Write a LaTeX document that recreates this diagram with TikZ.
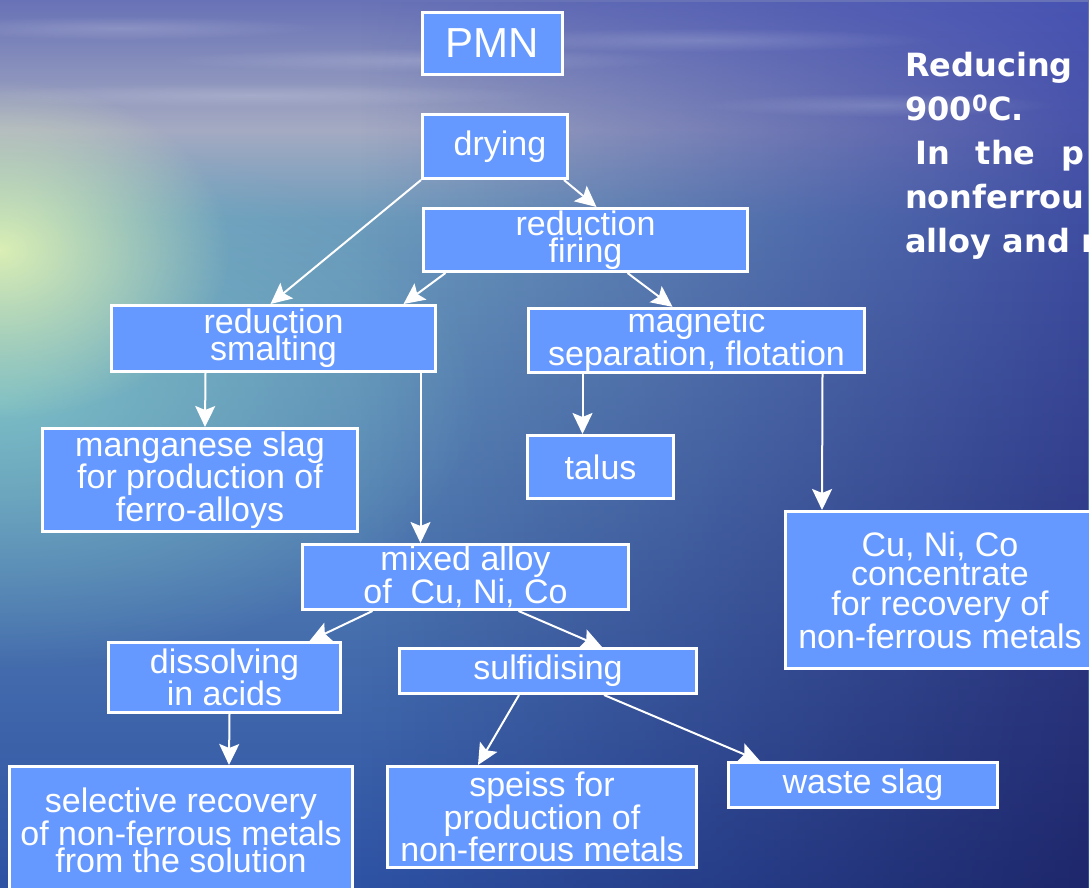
\documentclass[tikz,border=0pt]{standalone}
\usepackage{fontspec}
\setmainfont{Liberation Sans}
\newfontfamily\notefont{DejaVu Sans}
\usepackage{xcolor}
\usepackage{tikz}
\usetikzlibrary{arrows.meta,fadings}
\definecolor{pmnbox}{HTML}{6699FF}
\definecolor{skytop}{HTML}{6872B6}
\definecolor{horizon}{HTML}{A4AAC2}
\definecolor{seatop}{HTML}{6C9CBC}
\definecolor{seadeep}{HTML}{2E52A4}
\definecolor{skyright}{HTML}{4450B2}
\definecolor{seamidright}{HTML}{2C3A8E}
\definecolor{seanight}{HTML}{1C2264}
\definecolor{glowlight}{HTML}{E6F6B4}
\definecolor{glowteal}{HTML}{80C6C8}
\definecolor{haze}{HTML}{DCCEC0}
\tikzfading[name=glowfade,inner color=transparent!0,outer color=transparent!100]
\tikzfading[name=bandfade,top color=transparent!100,middle color=transparent!20,bottom color=transparent!100]
\tikzset{
  stage/.style={draw=white,line width=3pt,fill=pmnbox,text=white,align=center,inner sep=0pt,
    font=\fontsize{34}{27}\selectfont},
  ar/.style={-{Stealth[length=21pt,width=20pt,inset=4pt]},draw=white,line width=2pt},
  note/.style={text=white,align=left,inner sep=0pt,font=\notefont\bfseries\fontsize{32}{44}\selectfont},
}
\begin{document}
\begin{tikzpicture}[x=1pt,y=-1pt]
  \useasboundingbox (0,0) rectangle (1089,888);
  \clip (0,0) rectangle (1089,888);
  % sky and sea
  \shade[top color=skytop,bottom color=horizon] (0,0) rectangle (1089,130);
  \shade[top color=horizon,bottom color=seatop] (0,130) rectangle (1089,220);
  \shade[top color=seatop,bottom color=seadeep] (0,220) rectangle (1089,888);
  \shade[top color=skyright,middle color=seamidright,bottom color=seanight,path fading=west,opacity=.9] (360,0) rectangle (1089,888);
  \foreach \x/\y/\w in {120/28/200, 420/60/260, 700/40/240, 250/95/300, 880/105/180}
    \fill[white,path fading=glowfade,opacity=.16] (\x,\y) ellipse (\w pt and 12pt);
  \fill[haze,path fading=bandfade,opacity=.75] (0,105) rectangle (850,160);
  \fill[glowteal,path fading=glowfade,opacity=.85] (0,400) ellipse (480 and 270);
  \fill[glowlight,path fading=glowfade,opacity=.9] (0,250) ellipse (230 and 170);
  % process boxes
  \node[stage,minimum width=140,minimum height=62,font=\fontsize{42}{40}\selectfont] (pmn) at (492.5,43.5) {PMN};
  \node[stage,minimum width=145,minimum height=64] (drying) at (495,146.5) {\hspace*{10pt}drying};
  \node[stage,minimum width=324,minimum height=63] (firing) at (585.5,240) {reduction\\firing};
  \node[stage,minimum width=324,minimum height=66] (smalt) at (273.5,338.5) {reduction\\smalting};
  \node[stage,minimum width=336,minimum height=64] (magsep) at (696.5,340.5) {magnetic\\separation, flotation};
  \node[stage,minimum width=315,minimum height=103,font=\fontsize{34}{30}\selectfont] (mnslag) at (200,480) {manganese slag\\for production of\\ferro-alloys};
  \node[stage,minimum width=146,minimum height=63] (talus) at (600.5,467) {talus};
  \node[stage,minimum width=310,minimum height=157,font=\fontsize{34}{29.5}\selectfont] (conc) at (940,590) {Cu, Ni, Co\\concentrate\\for recovery of\\non-ferrous metals};
  \node[stage,minimum width=326,minimum height=65] (alloy) at (465.5,577) {mixed alloy\\of\ \ Cu, Ni, Co};
  \node[stage,minimum width=232,minimum height=70,font=\fontsize{34}{32}\selectfont] (dissolv) at (224.5,677.5) {dissolving\\in acids};
  \node[stage,minimum width=297,minimum height=45] (sulfid) at (548,671) {sulfidising};
  \node[stage,minimum width=343,minimum height=127] (select) at (181,830) {selective recovery\\of non-ferrous metals\\from the solution};
  \node[stage,minimum width=309,minimum height=101] (speiss) at (542,817) {speiss for\\production of\\non-ferrous metals};
  \node[stage,minimum width=269,minimum height=45] (waste) at (863,785) {waste slag};
  % flow arrows
  \draw[ar] ([xshift=-5pt]drying.south east) -- ([xshift=11pt]firing.north);
  \draw[ar] (drying.south west) -- ([xshift=-3pt]smalt.north);
  \draw[ar] ([xshift=-140pt]firing.south) -- ([xshift=130pt]smalt.north);
  \draw[ar] ([xshift=42pt]firing.south) -- ([xshift=-24pt]magsep.north);
  \draw[ar] ([xshift=-68pt]smalt.south) -- ([xshift=5pt]mnslag.north);
  \draw[ar] ([xshift=147pt]smalt.south) -- ([xshift=-45pt]alloy.north);
  \draw[ar] ([xshift=-114pt]magsep.south) -- ([xshift=-18pt]talus.north);
  \draw[ar] ([xshift=126pt]magsep.south) -- ([xshift=-118pt]conc.north);
  \draw[ar] ([xshift=-93pt]alloy.south) -- ([xshift=85pt]dissolv.north);
  \draw[ar] ([xshift=53pt]alloy.south) -- ([xshift=54pt]sulfid.north);
  \draw[ar] ([xshift=5pt]dissolv.south) -- ([xshift=48pt]select.north);
  \draw[ar] ([xshift=-29pt]sulfid.south) -- ([xshift=-64pt]speiss.north);
  \draw[ar] ([xshift=56pt]sulfid.south) -- ([xshift=-103pt]waste.north);
  % side text
  \node[note,anchor=north west] (note) at (905,52) {Reducing\\900\textsuperscript{0}C.\\\hspace*{10pt}In\hspace{26pt}the\hspace{26pt}p\\nonferrou\\alloy and r};
\end{tikzpicture}
\end{document}
